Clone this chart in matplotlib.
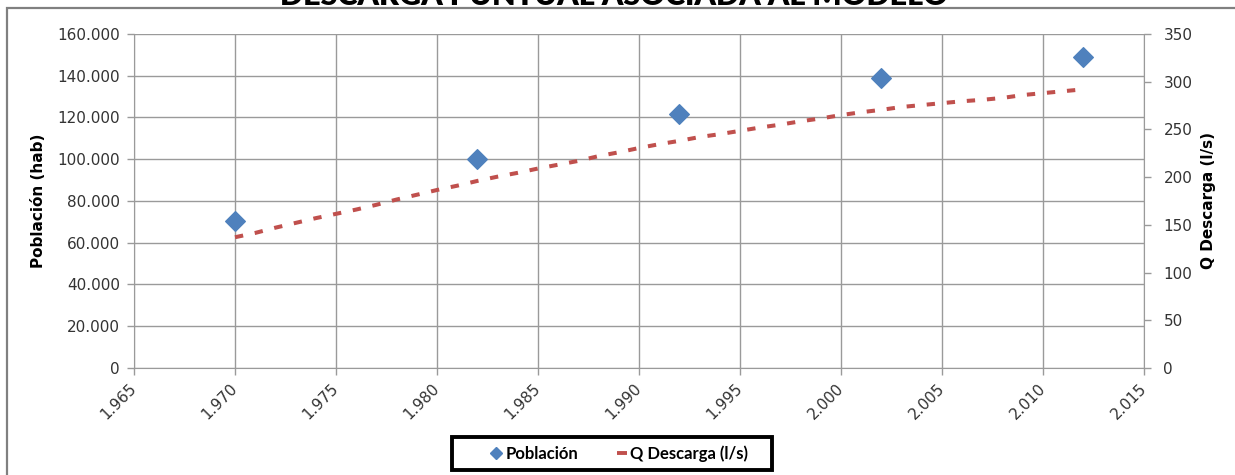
import matplotlib.pyplot as plt
from matplotlib.lines import Line2D
from matplotlib.patches import Rectangle
from matplotlib.ticker import FuncFormatter, MultipleLocator

plt.rcParams["font.family"] = ["DejaVu Sans"]
plt.rcParams["lines.scale_dashes"] = False

# datos
anios_pob = [1970, 1982, 1992, 2002, 2012]
poblacion = [70300, 100200, 121900, 138700, 149100]

anios_q = [1970, 1971, 1972, 1973, 1974, 1975, 1976, 1977, 1978, 1979,
           1980, 1981, 1982, 1983, 1984, 1985, 1986, 1987, 1988, 1989,
           1990, 1991, 1992, 1993, 1994, 1995, 1996, 1997, 1998, 1999,
           2000, 2001, 2002, 2003, 2004, 2005, 2006, 2007, 2008, 2009,
           2010, 2011, 2012]
q_descarga = [137, 141.5, 147, 152, 157, 161.5, 166, 171, 176.5, 181.5,
              186.5, 191, 196, 200.5, 204.5, 209, 213, 217, 222, 226,
              230.5, 234.5, 238, 242, 245, 248.5, 252, 255, 258.5, 261.5,
              265, 268, 270.5, 273.5, 275.5, 277.5, 279.5, 281, 283, 286,
              288, 290, 292]

AZUL = "#4F81BD"
ROJO = "#C0504D"
GRIS = "#9A9A9A"
W, H = 1235, 475


def miles(v, pos):
    return f"{v:,.0f}".replace(",", ".")


fig = plt.figure(figsize=(W / 100, H / 100), dpi=100)
ax = fig.add_axes([0.1085, 0.2253, 0.8178, 0.7032])
ax2 = ax.twinx()

ax.scatter(anios_pob, poblacion, marker="D", s=100, color=AZUL, zorder=3,
           label="Población", clip_on=False)
ax2.plot(anios_q, q_descarga, color=ROJO, lw=2.9, dashes=(6, 8.5),
         dash_capstyle="butt", label="Q Descarga (l/s)")

ax.set_xlim(1965, 2015)
ax.set_ylim(0, 160000)
ax2.set_ylim(0, 350)
ax.xaxis.set_major_locator(MultipleLocator(5))
ax.yaxis.set_major_locator(MultipleLocator(20000))
ax2.yaxis.set_major_locator(MultipleLocator(50))
ax.xaxis.set_major_formatter(FuncFormatter(miles))
ax.yaxis.set_major_formatter(FuncFormatter(miles))

ax.grid(True, color=GRIS, lw=1)
ax.set_axisbelow(True)

for a in (ax, ax2):
    for s in a.spines.values():
        s.set_visible(False)
    a.tick_params(colors=GRIS, labelcolor="#333333", length=5, width=1,
                  labelsize=11)
ax.spines["left"].set_visible(True)
ax.spines["bottom"].set_visible(True)
ax.spines["left"].set_color(GRIS)
ax.spines["bottom"].set_color(GRIS)
ax2.spines["right"].set_visible(True)
ax2.spines["right"].set_color(GRIS)
ax.tick_params(axis="y", pad=5)
ax2.tick_params(axis="y", pad=9)

for lab in ax.get_xticklabels():
    lab.set_rotation(45)
    lab.set_ha("right")
    lab.set_va("center")
    lab.set_rotation_mode("anchor")
ax.tick_params(axis="x", pad=8)

ax.set_ylabel("Población (hab)", fontsize=11, fontweight="bold", labelpad=8)
ax2.set_ylabel("Q Descarga (l/s)", fontsize=11, fontweight="bold",
               rotation=90, labelpad=6)

fig.text(0.497, 1 - 5 / H, "DESCARGA PUNTUAL ASOCIADA AL MODELO",
         ha="center", va="baseline", fontsize=22, fontweight="heavy",
         family="Lato")

# marco exterior
fig.patches.append(Rectangle((7 / W, -0.1), 1.2, 1.1 - 8 / H,
                             transform=fig.transFigure, fill=False,
                             edgecolor="#808080", lw=1.6))

# leyenda con caja propia
fig.patches.append(Rectangle((452 / W, 1 - 470 / H), 320 / W, 33 / H,
                             transform=fig.transFigure, facecolor="white",
                             edgecolor="black", lw=2.8, zorder=5))
handles = [Line2D([], [], marker="D", ls="none", color=AZUL, markersize=6),
           Line2D([], [], marker="_", ls="none", color=ROJO, markersize=7,
                  markeredgewidth=2.8)]
leg = fig.legend(handles, ["Población", "Q Descarga (l/s)"],
                 loc="center left", bbox_to_anchor=(491 / W, 1 - 454 / H),
                 ncol=2, frameon=False, handlelength=0.65, handletextpad=0.2,
                 columnspacing=2.3, borderpad=0, borderaxespad=0,
                 prop={"family": "Lato", "weight": "bold", "size": 12})
leg.set_zorder(6)

fig.savefig("out.png", dpi=100)
